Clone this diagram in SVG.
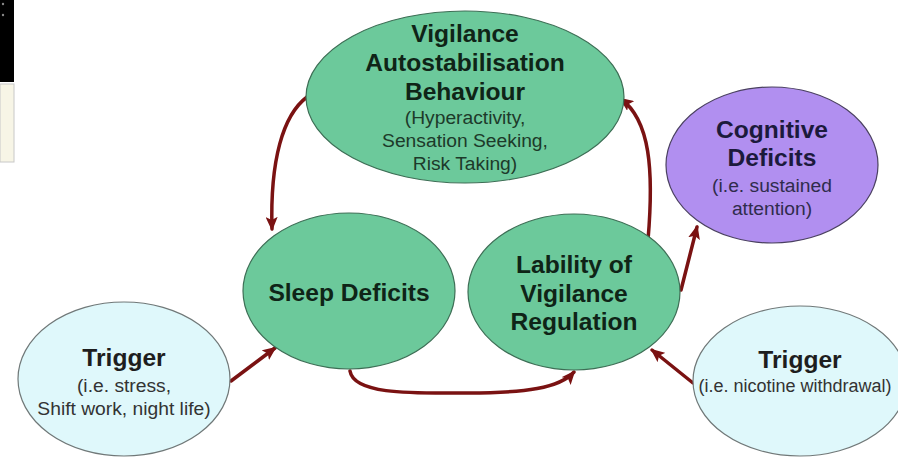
<svg xmlns="http://www.w3.org/2000/svg" width="898" height="457" viewBox="0 0 898 457">
<style>
.g{fill:#6cc99b;stroke:#3d6e55;stroke-width:1.2}
.p{fill:#b18ff0;stroke:#4a4060;stroke-width:1.2}
.b{fill:#dff8fb;stroke:#707878;stroke-width:1.2}
text{font-family:"Liberation Sans",Arial,sans-serif;text-anchor:middle}
.h{font-size:23px;font-weight:bold}
.s{font-size:18px}
.tg{fill:#0f2417}
.sg{fill:#1d3a2a}
.tp{fill:#1c1a3c}
.sp{fill:#2f2c4c}
.tb{fill:#1e1e1e}
.sb{fill:#333}
.c{fill:none;stroke:#7a1212;stroke-width:3.5;stroke-linecap:round}
</style>
<defs>
<marker id="ah" markerUnits="userSpaceOnUse" markerWidth="14" markerHeight="12" viewBox="0 0 14 12" refX="12" refY="6" orient="auto">
<path d="M0,0 L14,6 L0,12 L3,6 Z" fill="#7a1212"/>
</marker>
</defs>
<rect width="898" height="457" fill="#ffffff"/>
<g id="artifact">
<rect x="0" y="0" width="14" height="82" fill="#000"/>
<circle cx="3" cy="4" r="1.2" fill="#888"/>
<circle cx="3" cy="15" r="1.2" fill="#888"/>
<rect x="0" y="84" width="14" height="78" fill="#f7f5e6" stroke="#c8c8c8" stroke-width="1"/>
</g>
<g id="connectors">
<path class="c" d="M307,97 C283,115 270,160 272,229" marker-end="url(#ah)"/>
<path class="c" d="M648,240 C654,170 650,120 621,99" marker-end="url(#ah)"/>
<path class="c" d="M681,290 L697,227" marker-end="url(#ah)"/>
<path class="c" d="M350,371 C354,396 420,393 468,393 C525,393 560,388 574,372" marker-end="url(#ah)"/>
<path class="c" d="M231,381 L275,348" marker-end="url(#ah)"/>
<path class="c" d="M693,383 L652,350" marker-end="url(#ah)"/>
</g>
<g id="vigilance-autostabilisation">
<ellipse class="g" cx="465" cy="97" rx="159" ry="86"/>
<g transform="translate(465,0) scale(1.07,1)">
<text class="h tg" x="0" y="42">Vigilance</text>
<text class="h tg" x="0" y="71">Autostabilisation</text>
<text class="h tg" x="0" y="100">Behaviour</text>
<text class="s sg" x="0" y="124">(Hyperactivity,</text>
<text class="s sg" x="0" y="147">Sensation Seeking,</text>
<text class="s sg" x="0" y="170">Risk Taking)</text>
</g>
</g>
<g id="cognitive-deficits">
<ellipse class="p" cx="772" cy="165" rx="106" ry="78"/>
<g transform="translate(772,0) scale(1.07,1)">
<text class="h tp" x="0" y="138">Cognitive</text>
<text class="h tp" x="0" y="166">Deficits</text>
<text class="s sp" x="0" y="192">(i.e. sustained</text>
<text class="s sp" x="0" y="215">attention)</text>
</g>
</g>
<g id="sleep-deficits">
<ellipse class="g" cx="349" cy="291" rx="106" ry="78"/>
<g transform="translate(349,0) scale(1.07,1)">
<text class="h tg" x="0" y="301">Sleep Deficits</text>
</g>
</g>
<g id="lability">
<ellipse class="g" cx="574" cy="292" rx="106" ry="78"/>
<g transform="translate(574,0) scale(1.07,1)">
<text class="h tg" x="0" y="273">Lability of</text>
<text class="h tg" x="0" y="302">Vigilance</text>
<text class="h tg" x="0" y="330">Regulation</text>
</g>
</g>
<g id="trigger-left">
<ellipse class="b" cx="124" cy="379" rx="106" ry="77"/>
<g transform="translate(124,0) scale(1.07,1)">
<text class="h tb" x="0" y="366">Trigger</text>
<text class="s sb" x="0" y="392">(i.e. stress,</text>
<text class="s sb" x="0" y="415">Shift work, night life)</text>
</g>
</g>
<g id="trigger-right">
<ellipse class="b" cx="800" cy="381" rx="107" ry="75"/>
<g transform="translate(800,0) scale(1.07,1)">
<text class="h tb" x="0" y="368">Trigger</text>
</g>
<g transform="translate(795,0) scale(1.0,1)">
<text class="s sb" x="0" y="392">(i.e. nicotine withdrawal)</text>
</g>
</g>
</svg>
